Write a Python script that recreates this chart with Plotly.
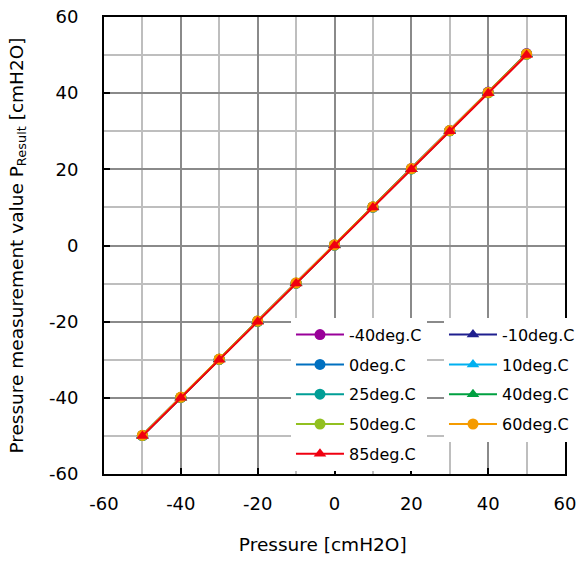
import plotly.graph_objects as go

pressure = [-50, -40, -30, -20, -10, 0, 10, 20, 30, 40, 50]
series_names = ["-40deg.C", "-10deg.C", "0deg.C", "10deg.C", "25deg.C",
                "40deg.C", "50deg.C", "60deg.C", "85deg.C"]
p_m40 = [-49.9, -39.9, -29.9, -19.9, -9.9, 0.1, 10.1, 20.2, 30.2, 40.3, 50.4]
p_m10 = [-49.9, -39.9, -29.9, -19.9, -9.9, 0.1, 10.1, 20.1, 30.2, 40.2, 50.3]
p_0 = [-49.9, -39.9, -29.9, -19.9, -9.9, 0.1, 10.1, 20.1, 30.1, 40.2, 50.3]
p_10 = [-49.9, -39.9, -29.9, -19.9, -9.9, 0.1, 10.1, 20.1, 30.1, 40.2, 50.2]
p_25 = [-49.9, -39.9, -29.9, -19.9, -9.9, 0.1, 10.1, 20.1, 30.1, 40.1, 50.2]
p_40 = [-49.9, -39.9, -29.9, -19.9, -9.9, 0.1, 10.1, 20.1, 30.1, 40.1, 50.2]
p_50 = [-49.9, -39.9, -29.9, -19.9, -9.9, 0.1, 10.1, 20.1, 30.1, 40.1, 50.2]
p_60 = [-49.8, -39.8, -29.8, -19.8, -9.8, 0.2, 10.2, 20.2, 30.2, 40.2, 50.3]
p_85 = [-50.0, -40.0, -30.0, -20.0, -10.0, 0.0, 10.0, 20.0, 30.0, 40.0, 50.0]
series_values = [p_m40, p_m10, p_0, p_10, p_25, p_40, p_50, p_60, p_85]
tick_vals = [-60, -40, -20, 0, 20, 40, 60]
tick_text = ["-60", "-40", "-20", "0", "20", "40", "60"]

colors = ["#990099", "#1F1F8F", "#0070C0", "#00B0F0", "#009E96",
          "#00A040", "#92C020", "#F59B00", "#F00010"]
symbols = ["circle", "triangle-up", "circle", "triangle-up", "circle",
           "triangle-up", "circle", "circle", "triangle-up"]
legend_col = ["legend", "legend2", "legend", "legend2", "legend",
              "legend2", "legend", "legend2", "legend"]

FONT = "DejaVu Sans"
fig = go.Figure()
for i, (name, vals, col, sym) in enumerate(zip(series_names, series_values, colors, symbols)):
    fig.add_trace(go.Scatter(
        x=pressure, y=vals, name=name, mode="lines+markers",
        line=dict(color=col, width=2),
        marker=dict(color=col, symbol=sym, size=11),
        legend=legend_col[i], legendgroup=name,
    ))

axis_common = dict(
    range=[-60, 60], tickmode="array", tickvals=tick_vals, ticktext=tick_text,
    showgrid=True, gridcolor="#8a8a8a", gridwidth=2,
    minor=dict(dtick=10, tick0=0, showgrid=True, gridcolor="#bebebe", gridwidth=2, ticks=""),
    showline=True, linecolor="black", linewidth=2, mirror=True,
    ticks="inside", ticklen=6, tickwidth=2, tickcolor="black",
    zeroline=False, automargin=False, ticklabeloverflow="allow",
    tickfont=dict(family=FONT, size=18, color="black"),
    title_font=dict(family=FONT, size=18.5, color="black"),
)
fig.update_xaxes(**axis_common, title_text="Pressure [cmH2O]&nbsp;&nbsp;&nbsp;&nbsp;", title_standoff=25,
                 ticklabelstandoff=12)
fig.update_yaxes(**axis_common, title_text="Pressure measurement value P<sub>Result</sub> [cmH2O]",
                 title_standoff=21, ticklabelstandoff=20)

leg_common = dict(
    orientation="v", yanchor="top", xanchor="left", y=0.342,
    bgcolor="white", font=dict(family=FONT, size=16, color="black"),
    itemwidth=48, tracegroupgap=6, traceorder="grouped",
)
fig.update_layout(
    width=577, height=561,
    margin=dict(l=104, r=12, t=17, b=87, autoexpand=False),
    plot_bgcolor="white", paper_bgcolor="white",
    font=dict(family=FONT, size=16, color="black"),
    legend=dict(x=0.4056, **leg_common),
    legend2=dict(x=0.7375, **leg_common),
)
fig.write_html("out.html", config={"displayModeBar": False},
               post_script="document.body.style.margin='0';")
